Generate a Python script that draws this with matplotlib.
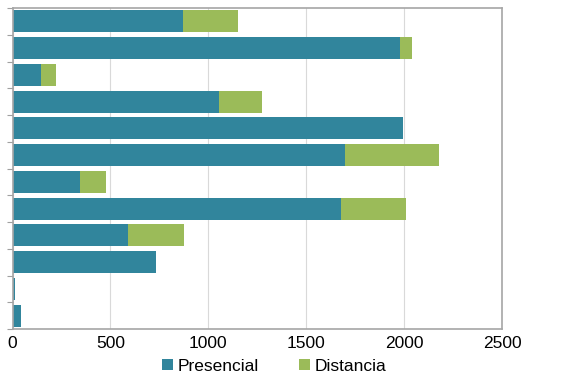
import matplotlib.pyplot as plt
import numpy as np

plt.rcParams['font.family'] = ['Liberation Sans', 'DejaVu Sans']

# values read top to bottom
presencial = [872, 1981, 145, 1054, 1995, 1697, 347, 1680, 592, 731, 15, 44]
distancia = [281, 61, 78, 220, 0, 483, 129, 332, 284, 0, 0, 0]
series_names = ['Presencial', 'Distancia']
colors = ['#31859C', '#9BBB59']

fig = plt.figure(figsize=(5.74, 3.76), dpi=100)
ax = fig.add_axes([12.5 / 574, 1 - 329 / 376, 489.5 / 574, 321 / 376])

y = np.arange(len(presencial))
ax.barh(y, presencial, height=0.82, color=colors[0], label=series_names[0])
ax.barh(y, distancia, left=presencial, height=0.82, color=colors[1], label=series_names[1])

ax.set_xlim(0, 2500)
ax.set_ylim(len(y) - 0.5, -0.5)
ax.set_xticks(range(0, 2501, 500))
ax.set_yticks(np.arange(-0.5, len(y), 1))
ax.set_yticklabels([])
ax.tick_params(axis='y', length=4, color='#a0a0a0', direction='out')
ax.tick_params(axis='x', length=0, labelsize=12.5, pad=5)
ax.grid(axis='x', color='#d9d9d9', linewidth=0.8)
ax.set_axisbelow(True)
for s in ax.spines.values():
    s.set_color('#a6a6a6')
    s.set_linewidth(1.2)

fig.legend(loc='lower center', bbox_to_anchor=(0.478, -0.035), ncol=2, frameon=False,
           fontsize=12.5, handlelength=0.6, handleheight=0.6, handletextpad=0.3,
           columnspacing=2.3)

fig.savefig('out.png', dpi=100)
